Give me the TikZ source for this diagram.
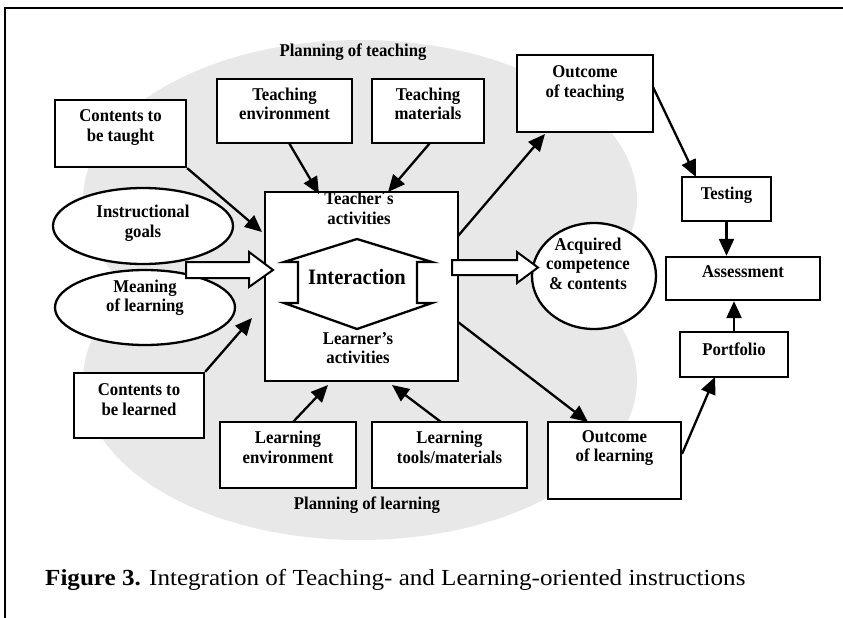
\documentclass[tikz,border=0pt]{standalone}
\usepackage{fontspec}
\setmainfont{Liberation Serif}
\newfontfamily\lblfont[FakeStretch=0.93]{Liberation Serif}
\newfontfamily\capfont[FakeStretch=1.09]{Liberation Serif}
\usetikzlibrary{arrows.meta}
\definecolor{blob}{RGB}{232,232,232}
\begin{document}
\begin{tikzpicture}[x=1pt,y=-1pt,
  bx/.style={draw=black, line width=2.3pt, fill=white, inner sep=0pt},
  lbl/.style={font=\lblfont\fontsize{18}{19.5}\selectfont\bfseries, align=center, inner sep=0pt},
  arr/.style={line width=2.3pt, -{Triangle[length=17pt,width=15pt]}},
  hol/.style={draw=black, line width=2pt, fill=white, line join=miter},
]
\useasboundingbox (0,0) rectangle (843,618);
% gray background
\fill[blob] (360,200) ellipse [x radius=277, y radius=160];
\fill[blob] (360,380) ellipse [x radius=277, y radius=160];
% frame
\draw[line width=1.6pt] (5,618) -- (5,8) -- (843,8);
% boxes
\node[bx, minimum width=131pt, minimum height=67pt] (cbt) at (120.5,133.5) {};
\node[bx, minimum width=135pt, minimum height=64pt] (te) at (284.5,111) {};
\node[bx, minimum width=112pt, minimum height=64pt] (tm) at (428,111) {};
\node[bx, minimum width=136pt, minimum height=77pt] (ot) at (585,93.5) {};
\node[bx, minimum width=193pt, minimum height=189pt] (act) at (361.5,286.5) {};
\node[bx, minimum width=89pt, minimum height=44pt] (tst) at (726.5,199) {};
\node[bx, minimum width=154pt, minimum height=43pt] (asm) at (743,278.5) {};
\node[bx, minimum width=108pt, minimum height=45pt] (pf) at (734,354.5) {};
\node[bx, minimum width=133pt, minimum height=77pt] (ol) at (614.5,460.5) {};
\node[bx, minimum width=130pt, minimum height=65pt] (cbl) at (139,405.5) {};
\node[bx, minimum width=136pt, minimum height=66pt] (le) at (288,455) {};
\node[bx, minimum width=155pt, minimum height=66pt] (lt) at (449.5,455) {};
% ellipses
\draw[line width=2.3pt, fill=white] (143,226) ellipse [x radius=90, y radius=38];
\coordinate (ig) at (143,226);
\draw[line width=2.3pt, fill=white] (145,307.5) ellipse [x radius=90, y radius=37.5];
\coordinate (ml) at (145,307.5);
\draw[line width=2.3pt, fill=white] (594,276) ellipse [x radius=62, y radius=53];
\coordinate (acq) at (594,276);
% interaction double arrow
\draw[line width=2.3pt, line join=miter] (357,239) -- (432,262) -- (417,262) -- (417,303) -- (432,303) -- (357,329) -- (284,303) -- (298,303) -- (298,262) -- (284,262) -- cycle;
% labels
\node[lbl] (l-pt) at (353,52) {Planning of teaching};
\node[lbl] (l-pl) at (367,505) {Planning of learning};
\node[lbl] (l-cbt) at (120.5,127.5) {Contents to\\be taught};
\node[lbl] (l-te) at (284.5,104) {Teaching\\environment};
\node[lbl] (l-tm) at (428,104) {Teaching\\materials};
\node[lbl] (l-ot) at (585,83.5) {Outcome\\of teaching};
\node[lbl] (l-ig) at (143,223) {Instructional\\goals};
\node[lbl] (l-ml) at (145,297.5) {Meaning\\of learning};
\node[lbl] (l-tch) at (359,208.5) {Teacher´s\\activities};
\node[lbl, font=\lblfont\fontsize{22}{24}\selectfont\bfseries] (l-int) at (357,277) {Interaction};
\node[lbl] (l-lrn) at (358,348) {Learner’s\\activities};
\node[lbl] (l-acq) at (588,263.5) {Acquired\\competence\\\& contents};
\node[lbl] (l-tst) at (726.5,195) {Testing};
\node[lbl] (l-asm) at (743,272) {Assessment};
\node[lbl] (l-pf) at (734,349) {Portfolio};
\node[lbl] (l-ol) at (614.5,448) {Outcome\\of learning};
\node[lbl] (l-cbl) at (139,399.5) {Contents to\\be learned};
\node[lbl] (l-le) at (288,447.5) {Learning\\environment};
\node[lbl] (l-lt) at (449.5,447.5) {Learning\\tools/materials};
\node[anchor=west, inner sep=0pt, font=\capfont\fontsize{23}{26}\selectfont] (cap) at (45,580) {\textbf{Figure 3.} Integration of Teaching- and Learning-oriented instructions};
% arrow endpoints
\coordinate (t1) at (262,232);
\coordinate (t2) at (252,318);
\coordinate (s3) at (289,143); \coordinate (t3) at (319,194);
\coordinate (s4) at (430,143); \coordinate (t4) at (388,192);
\coordinate (s5) at (293,422); \coordinate (t5) at (328,385);
\coordinate (s6) at (441,422); \coordinate (t6) at (392,385);
\coordinate (s7) at (458,236); \coordinate (t7) at (545,134);
\coordinate (s8) at (458,322); \coordinate (t8) at (588,422);
\coordinate (s9) at (653,87);  \coordinate (t9) at (696,177);
\coordinate (s12) at (682,454); \coordinate (t12) at (715,377);
\draw[arr] (cbt.south east) -- (t1);
\draw[arr] (cbl.north east) -- (t2);
\draw[arr] (s3) -- (t3);
\draw[arr] (s4) -- (t4);
\draw[arr] (s5) -- (t5);
\draw[arr] (s6) -- (t6);
\draw[arr] (s7) -- (t7);
\draw[arr] (s8) -- (t8);
\draw[arr] (s9) -- (t9);
\draw[arr] (tst.south) -- (tst.south |- asm.north);
\draw[arr] (pf.north) -- (pf.north |- asm.south);
\draw[arr] (s12) -- (t12);
% hollow arrows
\draw[hol] (186,262) -- (249,262) -- (249,252) -- (273,270) -- (249,287) -- (249,278) -- (186,278) -- cycle;
\draw[hol] (452,260) -- (517,260) -- (517,252) -- (538,267.5) -- (517,283) -- (517,275) -- (452,275) -- cycle;
\end{tikzpicture}
\end{document}
